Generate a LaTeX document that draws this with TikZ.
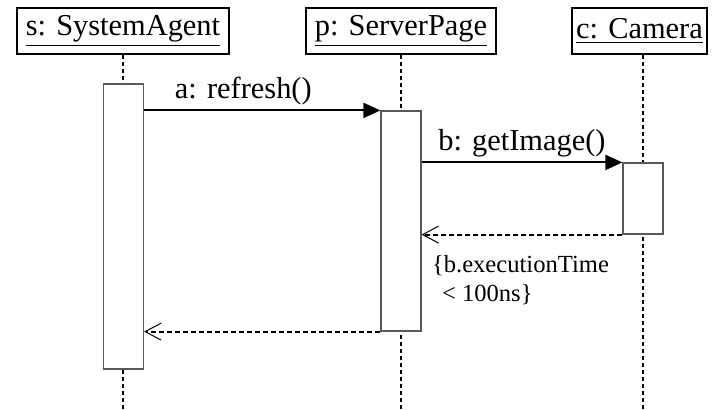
\documentclass[tikz,border=0pt]{standalone}
\usepackage{fontspec}
\setmainfont{Liberation Serif}
\usetikzlibrary{arrows.meta,positioning}
\tikzset{
    object/.style = {rectangle, minimum height=23pt, inner xsep=2pt, text centered, draw=black, line width=0.6pt, font=\fontsize{15.2}{18}\selectfont},
    activation/.style = {rectangle, minimum width=20pt, inner sep=0pt, draw=black!65, line width=0.6pt, fill=white},
    lifeline/.style = {line width=1pt, dash pattern=on 2pt off 1.5pt},
    call/.style = {line width=1pt, -{Triangle[length=8.5pt,width=7.5pt]}},
    reply/.style = {line width=0.9pt, dash pattern=on 2.5pt off 1.5pt, -{Straight Barb[length=8pt,width=8.5pt,line width=0.5pt]}},
    msg/.style = {font=\fontsize{15.2}{18}\selectfont, inner sep=2pt},
    constraint/.style = {font=\fontsize{12.3}{14.5}\selectfont, align=left, inner sep=2pt}
}
\begin{document}
\begin{tikzpicture}[x=0.5pt, y=-0.5pt]
\useasboundingbox (0,0) rectangle (717,409);
% objects
\node (agent) [object, minimum width=106pt] at (123,31) {\underline{s: SystemAgent}};
\node (page) [object, minimum width=95pt] at (401,31) {\underline{p: ServerPage}};
\node (camera) [object, minimum width=67.5pt] at (639.5,31) {\underline{c: Camera}};

% lifelines
\coordinate (agentEnd) at (123,409);
\coordinate (pageEnd) at (401,409);
\coordinate (cameraEnd) at (643,409);
\draw [lifeline] (agent.south) -- (agentEnd);
\draw [lifeline] (page.south) -- (pageEnd);
\draw [lifeline] (camera.south -| cameraEnd) -- (cameraEnd);

% activations
\node (actS) [activation, minimum height=142.5pt] at (123.5,226.5) {};
\node (actP) [activation, minimum height=110pt] at (401,221) {};
\node (actC) [activation, minimum height=35.5pt] at (643,198.5) {};

% messages
\draw [call] (actS.east |- actP.north) -- node [msg, above, pos=0.42] {a: refresh()} (actP.north west);
\draw [call] (actP.east |- actC.north) -- node [msg, above] {b: getImage()} (actC.north west);
\draw [reply] (actC.south west) -- (actC.south west -| actP.east) coordinate (rb);
\node (cons) [constraint, below right=8pt and 3pt of rb] {\{b.executionTime\\\hspace{5pt}< 100ns\}};
\draw [reply] (actP.south west) -- (actP.south west -| actS.east);
\end{tikzpicture}
\end{document}
